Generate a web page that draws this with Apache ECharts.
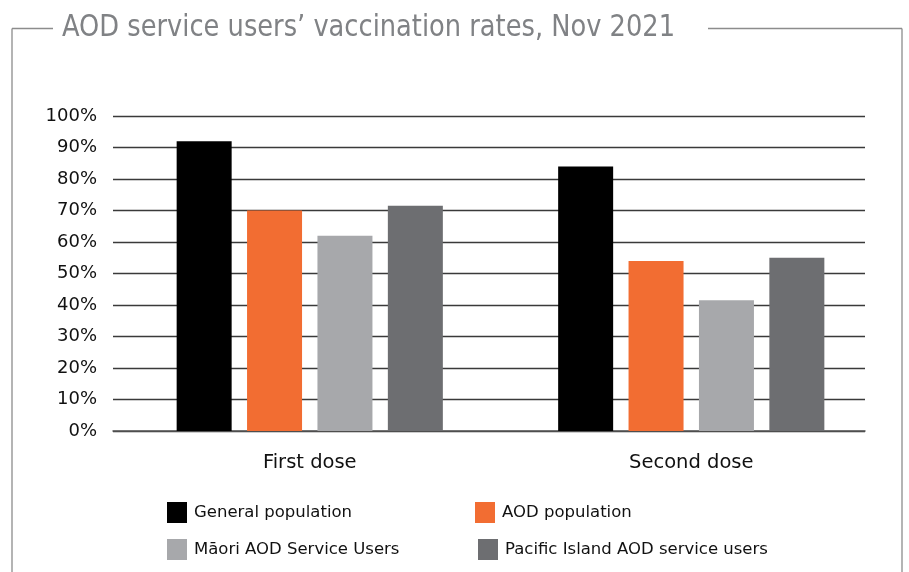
<!DOCTYPE html>
<html>
<head>
<meta charset="utf-8">
<script src="https://cdn.jsdelivr.net/npm/echarts@6/dist/echarts.min.js"></script>
<style>html,body{margin:0;padding:0;background:#fff;}#c{width:909px;height:572px;}</style>
</head>
<body>
<div id="c"></div>
<script>
const categories = ['First dose', 'Second dose'];
const seriesNames = ['General population', 'AOD population', 'Māori AOD Service Users', 'Pacific Island AOD service users'];
const generalPopulation = [92, 84];
const aodPopulation = [70, 54];
const maoriUsers = [62, 41.5];
const pacificUsers = [71.5, 55];
const titleText = 'AOD service users’ vaccination rates, Nov 2021';

const colors = ['#000000', '#F26D32', '#A7A8AB', '#6D6E71'];
const values = [generalPopulation, aodPopulation, maoriUsers, pacificUsers];
const font = 'DejaVu Sans';
const titleFont = '"DejaVu Sans Condensed", "DejaVu Sans"';
const titleSize = 29.5;

// fit title to its width in the reference
const cv = document.createElement('canvas').getContext('2d');
cv.font = titleSize + 'px ' + titleFont;
const titleScale = 613 / cv.measureText(titleText).width;

const chart = echarts.init(document.getElementById('c'));
const legendPos = [
  {left: 167, top: 502},
  {left: 475, top: 502},
  {left: 167, top: 539},
  {left: 478, top: 539}
];
const frame = {stroke: '#8c8c8c', lineWidth: 1.3};
chart.setOption({
  animation: false,
  graphic: [
    {type: 'line', shape: {x1: 12, y1: 28.5, x2: 12, y2: 572}, style: frame},
    {type: 'line', shape: {x1: 902, y1: 28.5, x2: 902, y2: 572}, style: frame},
    {type: 'line', shape: {x1: 12, y1: 28.5, x2: 53, y2: 28.5}, style: frame},
    {type: 'line', shape: {x1: 708, y1: 28.5, x2: 902, y2: 28.5}, style: frame},
    {type: 'text', x: 62, y: 28, scaleX: titleScale, style: {
      text: titleText, font: titleSize + 'px ' + titleFont, fill: '#808285',
      textAlign: 'left', textVerticalAlign: 'middle'
    }}
  ],
  legend: seriesNames.map((n, i) => ({
    data: [n], left: legendPos[i].left, top: legendPos[i].top,
    icon: 'rect', itemWidth: 20, itemHeight: 21, itemGap: 6, padding: 0,
    textStyle: {fontFamily: font, fontSize: 16.5, color: '#111', padding: [0, 0, 0, 2]}
  })),
  grid: [
    {left: 113, right: 44, top: 116, bottom: 141},
    {left: 119, right: 27, top: 116, bottom: 141}
  ],
  xAxis: [
    {
      type: 'category', data: categories, gridIndex: 0,
      axisLine: {show: true, lineStyle: {color: '#555', width: 1.5}},
      axisTick: {show: false}, axisLabel: {show: false}
    },
    {
      type: 'category', data: categories, gridIndex: 1,
      axisLine: {show: false}, axisTick: {show: false},
      axisLabel: {fontFamily: font, fontSize: 19.5, color: '#111', margin: 22}
    }
  ],
  yAxis: [
    {
      type: 'value', min: 0, max: 100, interval: 10, gridIndex: 0,
      axisLine: {show: false}, axisTick: {show: false},
      splitLine: {lineStyle: {color: '#3a3a3a', width: 1.3}},
      axisLabel: {fontFamily: font, fontSize: 18, color: '#111', margin: 16, formatter: v => v + '%'}
    },
    {
      type: 'value', min: 0, max: 100, interval: 10, gridIndex: 1,
      axisLine: {show: false}, axisTick: {show: false},
      splitLine: {show: false}, axisLabel: {show: false}
    }
  ],
  series: seriesNames.map((n, i) => ({
    name: n, type: 'bar', data: values[i], xAxisIndex: 1, yAxisIndex: 1,
    barWidth: 55, barGap: '28%',
    itemStyle: {color: colors[i]}
  }))
});
</script>
</body>
</html>
